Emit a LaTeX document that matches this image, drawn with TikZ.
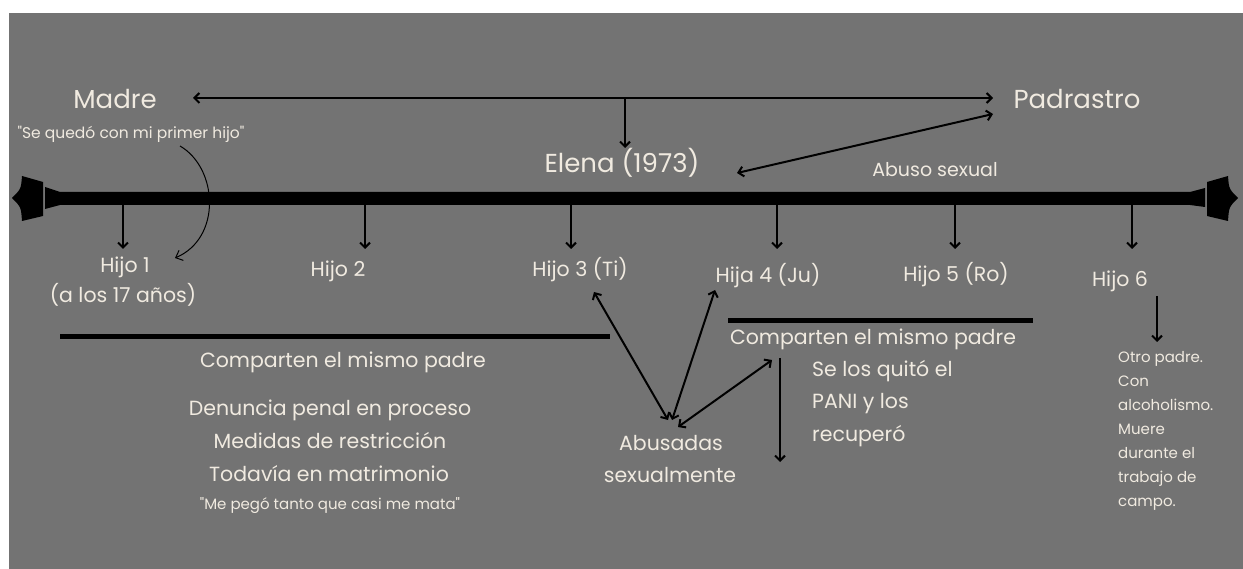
\documentclass[tikz,border=0pt]{standalone}
\usepackage{fontspec}
\setmainfont{Poppins}[Ligatures=TeXOff]
\usetikzlibrary{arrows.meta}
\definecolor{bg}{HTML}{737373}
\definecolor{txt}{HTML}{F0EAE0}
\begin{document}
\begin{tikzpicture}[x=1pt,y=-1pt,
  lbl/.style={text=txt,inner sep=0pt,anchor=base,font=\fontsize{20.5}{24}\selectfont},
  big/.style={lbl,font=\fontsize{26}{30}\selectfont},
  mid/.style={lbl,font=\fontsize{19}{22}\selectfont},
  small/.style={lbl,font=\fontsize{15.5}{18}\selectfont},
  conn/.style={draw=black,line width=2pt,-{Straight Barb[length=5pt,width=10pt]}},
  dconn/.style={draw=black,line width=2pt,{Straight Barb[length=5pt,width=10pt]}-{Straight Barb[length=5pt,width=10pt]}},
  thinconn/.style={draw=black,line width=1pt,-{Straight Barb[length=6pt,width=11pt]}},
  rule/.style={draw=black,line width=5pt}]
\useasboundingbox (0,0) rectangle (1243,569);
\fill[white] (0,0) rectangle (1243,569);
\fill[bg] (9,13) rectangle (1243,569);

% timeline bar
\fill[black] (45,187) -- (60,192) -- (1190,192) -- (1205,188) -- (1205,207) -- (1190,205) -- (60,205) -- (45,209) -- cycle;
\fill[black] (43,182) -- (22,176) .. controls (21,189) .. (12,198) .. controls (21,207) .. (22,221) -- (43,216) -- cycle;
\fill[black] (1207,182) -- (1228,176) .. controls (1229,189) .. (1238,198) .. controls (1229,207) .. (1228,221) -- (1207,216) -- cycle;

% texts
\node[big] (madre) at (115,109) {Madre};
\node[small] (quedo) at (131,139) {"Se quedó con mi primer hijo"};
\node[big] (padrastro) at (1077,109) {Padrastro};
\node[big] (elena) at (622,173) {Elena (1973)};
\node[mid] (abuso) at (935,177) {Abuso sexual};
\node[lbl] (h1) at (125,273) {Hijo 1};
\node[lbl] (h1b) at (123,303) {(a los 17 años)};
\node[lbl] (h2) at (338,277) {Hijo 2};
\node[lbl] (h3) at (580,277) {Hijo 3 (Ti)};
\node[lbl] (h4) at (768,283) {Hija 4 (Ju)};
\node[lbl] (h5) at (956,282) {Hijo 5 (Ro)};
\node[lbl] (h6) at (1120,287) {Hijo 6};
\node[lbl] (comp1) at (343,368) {Comparten el mismo padre};
\node[lbl] (den) at (330,415) {Denuncia penal en proceso};
\node[lbl] (med) at (330,448) {Medidas de restricción};
\node[lbl] (tod) at (329,481) {Todavía en matrimonio};
\node[small,font=\fontsize{15}{18}\selectfont] (pego) at (330,509) {"Me pegó tanto que casi me mata"};
\node[lbl] (comp2) at (873,345) {Comparten el mismo padre};
\node[lbl,anchor=base west] (pani1) at (812,377) {Se los quitó el};
\node[lbl,anchor=base west] (pani2) at (812,409) {PANI y los};
\node[lbl,anchor=base west] (pani3) at (812,441) {recuperó};
\node[lbl] (abus1) at (671,450) {Abusadas};
\node[lbl] (abus2) at (670,482) {sexualmente};
\node[lbl,anchor=north west,align=left,font=\fontsize{15}{24}\selectfont] (otro) at (1118,351)
  {Otro padre.\\Con\\alcoholismo.\\Muere\\durante el\\trabajo de\\campo.};

% connector end points
\coordinate (mL) at (193,98);
\coordinate (pL) at (993,98);
\coordinate (jn) at (625,98);
\coordinate (eT) at (625,148);
\coordinate (eR) at (737,173);
\coordinate (pL2) at (993,114);
\coordinate (qS) at (180,146);
\coordinate (h1T) at (175,258);
\foreach \x/\n in {123/1,365/2,571/3,777/4,955/5,1132/6}{
  \coordinate (b\n) at (\x,205);
  \coordinate (t\n) at (\x,249);
}
\coordinate (h3B) at (594,292);
\coordinate (h4B) at (715,290);
\coordinate (ab1) at (668,420);
\coordinate (ab2) at (672,420);
\coordinate (ab3) at (678,427);
\coordinate (cp) at (772,360);
\coordinate (vT) at (780,358);
\coordinate (vB) at (780,462);
\coordinate (h6B) at (1157,296);
\coordinate (h6E) at (1157,342);
\coordinate (r1a) at (60,337);
\coordinate (r1b) at (610,337);
\coordinate (r2a) at (728,321);
\coordinate (r2b) at (1033,321);

% connectors
\draw[dconn] (mL) -- (pL);
\draw[conn] (jn) -- (eT);
\draw[dconn] (eR) -- (pL2);
\draw[thinconn] (qS) .. controls (218,168) and (222,238) .. (h1T);
\foreach \n in {1,...,6}{ \draw[conn] (b\n) -- (t\n); }
\draw[dconn] (h3B) -- (ab1);
\draw[dconn] (h4B) -- (ab2);
\draw[dconn] (ab3) -- (cp);
\draw[conn] (vT) -- (vB);
\draw[conn] (h6B) -- (h6E);
\draw[rule] (r1a) -- (r1b);
\draw[rule] (r2a) -- (r2b);
\end{tikzpicture}
\end{document}
